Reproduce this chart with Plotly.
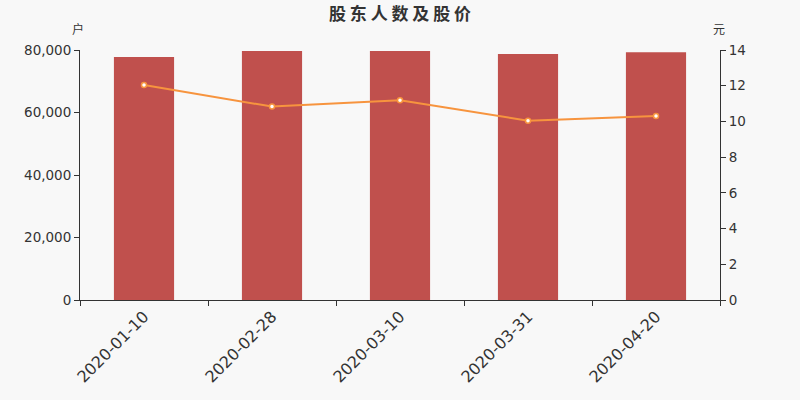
from plotly import graph_objs as go

# 股东人数 (户) 和 股价 (元)
dates = ["2020-01-10", "2020-02-28", "2020-03-10", "2020-03-31", "2020-04-20"]
holders = [77760, 79680, 79680, 78720, 79260]
price = [12.04, 10.83, 11.18, 10.04, 10.30]

bg = "#f8f8f8"
axis_color = "#333333"
font_family = "DejaVu Sans, Noto Sans CJK SC"

fig = go.Figure()

fig.add_trace(
    go.Bar(
        x=dates,
        y=holders,
        name="股东人数",
        marker=dict(color="#c0504d", line=dict(width=0)),
        width=0.47,
        yaxis="y",
    )
)

fig.add_trace(
    go.Scatter(
        x=dates,
        y=price,
        name="股价",
        mode="lines+markers",
        line=dict(color="#f7943e", width=2),
        marker=dict(color="#ffffff", size=5, line=dict(color="#f7943e", width=1.5)),
        yaxis="y2",
    )
)

fig.update_layout(
    width=800,
    height=400,
    paper_bgcolor=bg,
    plot_bgcolor=bg,
    showlegend=False,
    margin=dict(l=80, r=80, t=50, b=100, autoexpand=False),
    font=dict(family=font_family, color=axis_color, size=12),
    title=dict(
        text="<b>股 东 人 数 及 股 价</b>",
        x=0.5,
        xanchor="center",
        y=0.965,
        yanchor="middle",
        font=dict(family="Noto Sans CJK SC", size=17, color="#333333"),
    ),
    xaxis=dict(
        type="category",
        automargin=False,
        showline=True,
        linecolor=axis_color,
        linewidth=1,
        ticks="outside",
        tickson="boundaries",
        ticklen=5,
        tickcolor=axis_color,
        tickangle=-45,
        tickfont=dict(size=16, color=axis_color),
        showgrid=False,
        zeroline=False,
    ),
    yaxis=dict(
        range=[0, 80000],
        dtick=20000,
        tickformat=",",
        automargin=False,
        showline=True,
        linecolor=axis_color,
        ticks="outside",
        ticklen=5,
        tickcolor=axis_color,
        showgrid=False,
        zeroline=False,
        tickfont=dict(size=13.5, color=axis_color),
    ),
    yaxis2=dict(
        range=[0, 14],
        dtick=2,
        overlaying="y",
        side="right",
        automargin=False,
        showline=True,
        linecolor=axis_color,
        ticks="outside",
        ticklen=5,
        tickcolor=axis_color,
        showgrid=False,
        zeroline=False,
        tickfont=dict(size=13.5, color=axis_color),
    ),
    annotations=[
        dict(text="户", x=0, y=1, xref="paper", yref="paper", xanchor="center",
             yanchor="middle", yshift=22, xshift=-2, showarrow=False,
             font=dict(family="Noto Sans CJK SC", size=12, color=axis_color)),
        dict(text="元", x=1, y=1, xref="paper", yref="paper", xanchor="center",
             yanchor="middle", yshift=22, xshift=-1, showarrow=False,
             font=dict(family="Noto Sans CJK SC", size=12, color=axis_color)),
    ],
)

# drop the default page margin so the figure sits at the top-left corner
fig.write_html(
    "out.html",
    config={"displayModeBar": False},
    post_script="document.body.style.margin='0';document.body.style.background='#f8f8f8';",
)
